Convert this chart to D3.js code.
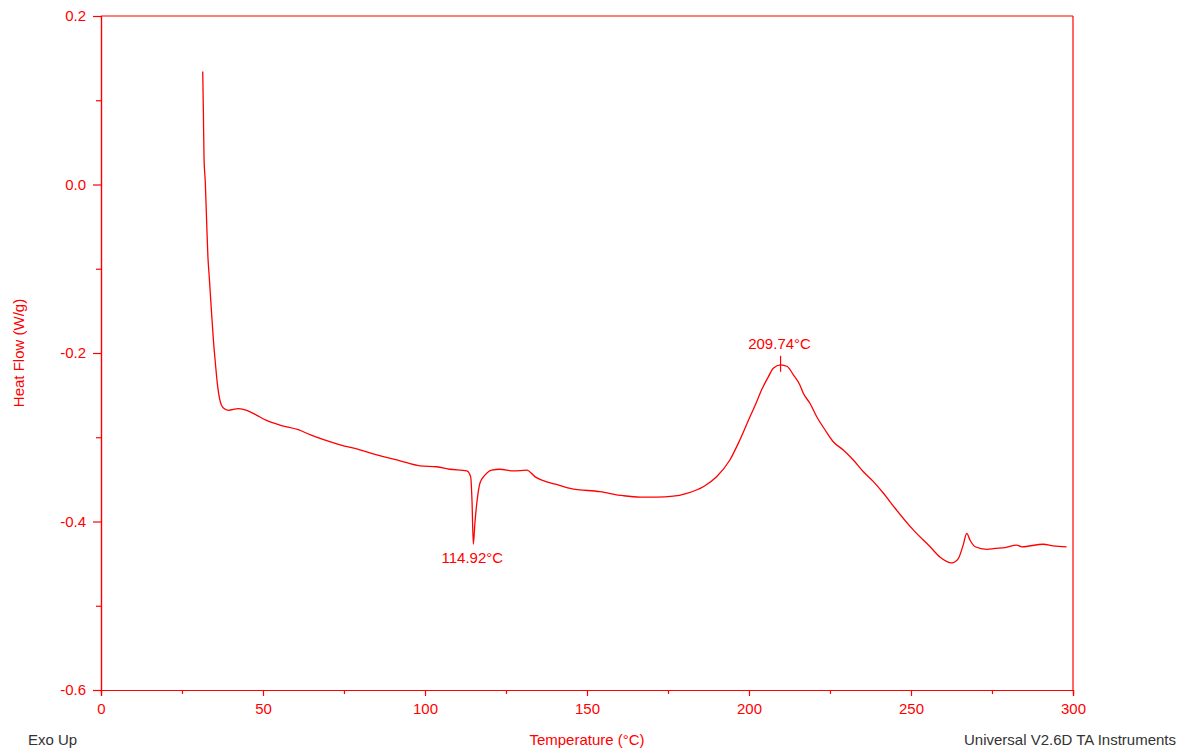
<!DOCTYPE html>
<html>
<head>
<meta charset="utf-8">
<script src="https://cdn.jsdelivr.net/npm/d3@7"></script>
<style>
  body { margin: 0; background: #fff; }
  text { font-family: "Liberation Sans", Arial, sans-serif; }
</style>
</head>
<body>
<div id="chart"></div>
<script>
var w = 1191;
var h = 753;

// DSC trace
var temps = [31.4, 31.6, 31.8, 32.2, 32.6, 33.0, 33.4, 34.0, 34.7, 35.3, 35.9, 36.7, 37.7, 39.3,
  42.4, 45.0, 48.1, 51.1, 55.2, 60.9, 64.5, 73.8, 79.9, 85.1, 92.3, 98.5, 103.6, 107.7, 112.9,
  114.1, 114.5, 114.92, 115.4, 116.1, 117.0, 118.5, 120.6, 123.1, 127.3, 131.4, 134.0, 137.6,
  140.6, 144.8, 154.0, 161.2, 166.4, 171.5, 176.6, 180.8, 185.9, 190.0, 194.1, 197.2, 200.3,
  202.6, 203.4, 206.0, 207.5, 209.74, 211.8, 213.7, 215.7, 216.8, 218.8, 220.9, 223.5, 226.0,
  229.1, 232.2, 235.3, 238.4, 241.5, 245.1, 250.7, 255.9, 258.9, 262.6, 264.6, 266.1, 267.2,
  268.2, 269.8, 273.4, 275.9, 279.0, 282.6, 284.2, 290.8, 293.9, 298.0];
var heatFlow = [0.134, 0.086, 0.031, 0.002, -0.044, -0.086, -0.109, -0.145, -0.185, -0.212, -0.236,
  -0.256, -0.265, -0.268, -0.266, -0.268, -0.274, -0.280, -0.2855, -0.291, -0.297, -0.309, -0.315,
  -0.321, -0.328, -0.334, -0.335, -0.338, -0.340, -0.347, -0.3745, -0.427, -0.402, -0.3745, -0.354,
  -0.345, -0.339, -0.338, -0.340, -0.339, -0.347, -0.353, -0.356, -0.3606, -0.3646, -0.3694,
  -0.371, -0.371, -0.370, -0.3665, -0.3587, -0.3468, -0.327, -0.303, -0.2756, -0.2558, -0.248,
  -0.228, -0.218, -0.214, -0.216, -0.226, -0.238, -0.248, -0.2597, -0.2756, -0.2914, -0.3053,
  -0.3151, -0.327, -0.3409, -0.3527, -0.3665, -0.3843, -0.410, -0.430, -0.442, -0.449, -0.444,
  -0.428, -0.414, -0.422, -0.430, -0.433, -0.432, -0.431, -0.428, -0.430, -0.427, -0.429, -0.430];

var xTicks = [0, 50, 100, 150, 200, 250, 300];
var xMinor = [25, 75, 125, 175, 225, 275];
var yTicks = [-0.6, -0.4, -0.2, 0.0, 0.2];
var yMinor = [-0.5, -0.3, -0.1, 0.1];

var peakTemps = [114.92, 209.74];
var peakFlows = [-0.427, -0.214];
var peakLabels = ["114.92°C", "209.74°C"];
var peakBelow = [true, false];

var red = "#ff0000";
var margin = {left: 101, right: 118, top: 16, bottom: 63};

var svg = d3.select("#chart")
  .append("svg")
  .attr("width", w)
  .attr("height", h);

var x = d3.scaleLinear().domain([0, 300]).range([margin.left, w - margin.right]);
var y = d3.scaleLinear().domain([-0.6, 0.2]).range([h - margin.bottom, margin.top]);

// frame: top and right edges
svg.append("line")
  .attr("x1", x(0)).attr("x2", x(300))
  .attr("y1", y(0.2)).attr("y2", y(0.2))
  .attr("stroke", red).attr("stroke-width", 1.2);
svg.append("line")
  .attr("x1", x(300)).attr("x2", x(300))
  .attr("y1", y(0.2)).attr("y2", y(-0.6))
  .attr("stroke", red).attr("stroke-width", 1.2);

// left axis
var yAxis = svg.append("g")
  .attr("transform", "translate(" + x(0) + ",0)")
  .call(d3.axisLeft(y).tickValues(yTicks).tickSize(8).tickPadding(7)
    .tickFormat(function(d) { return d.toFixed(1); }));
svg.append("g")
  .attr("transform", "translate(" + x(0) + ",0)")
  .call(d3.axisLeft(y).tickValues(yMinor).tickSize(5).tickFormat(""));

// bottom axis
var xAxis = svg.append("g")
  .attr("transform", "translate(0," + y(-0.6) + ")")
  .call(d3.axisBottom(x).tickValues(xTicks).tickSize(6).tickPadding(7)
    .tickFormat(d3.format("d")));
svg.append("g")
  .attr("transform", "translate(0," + y(-0.6) + ")")
  .call(d3.axisBottom(x).tickValues(xMinor).tickSize(4).tickFormat(""));

svg.selectAll(".domain, .tick line")
  .attr("stroke", red).attr("stroke-width", 1.2);
svg.selectAll(".tick text")
  .attr("fill", red)
  .style("font-size", "15px");

// axis titles
svg.append("text")
  .attr("x", (x(0) + x(300)) / 2)
  .attr("y", 745)
  .attr("text-anchor", "middle")
  .attr("fill", red)
  .style("font-size", "15px")
  .text("Temperature (°C)");

svg.append("text")
  .attr("transform", "translate(24," + (y(0.2) + y(-0.6)) / 2 + ") rotate(-90)")
  .attr("text-anchor", "middle")
  .attr("fill", red)
  .style("font-size", "15px")
  .text("Heat Flow (W/g)");

svg.append("text")
  .attr("x", 28).attr("y", 745)
  .attr("fill", "#333")
  .style("font-size", "15px")
  .text("Exo Up");

svg.append("text")
  .attr("x", 1176).attr("y", 745)
  .attr("text-anchor", "end")
  .attr("fill", "#333")
  .style("font-size", "15px")
  .text("Universal V2.6D TA Instruments");

// the trace
var pts = temps.map(function(t, i) { return [t, heatFlow[i]]; });
var line = d3.line()
  .x(function(d) { return x(d[0]); })
  .y(function(d) { return y(d[1]); })
  .curve(d3.curveMonotoneX);

svg.append("path")
  .datum(pts)
  .attr("fill", "none")
  .attr("stroke", red)
  .attr("stroke-width", 1.3)
  .attr("d", line);

// peak annotations
peakTemps.forEach(function(t, i) {
  var px = x(t), py = y(peakFlows[i]);
  if (!peakBelow[i]) {
    svg.append("line")
      .attr("x1", px).attr("x2", px)
      .attr("y1", py - 9).attr("y2", py + 7)
      .attr("stroke", red).attr("stroke-width", 1.2);
  }
  svg.append("text")
    .attr("x", px - 1)
    .attr("y", peakBelow[i] ? py + 19 : py - 16)
    .attr("text-anchor", "middle")
    .attr("fill", red)
    .style("font-size", "15px")
    .text(peakLabels[i]);
});
</script>
</body>
</html>
